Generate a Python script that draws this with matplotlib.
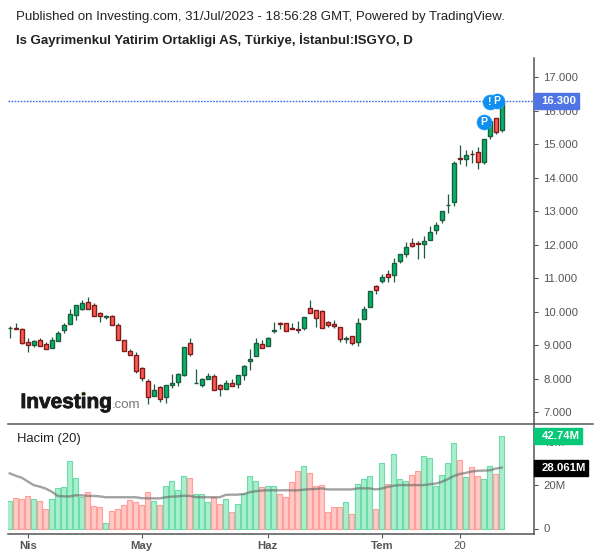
import matplotlib
matplotlib.use("Agg")
import matplotlib.pyplot as plt
import matplotlib.patheffects as pe
from matplotlib.lines import Line2D

plt.rcParams['font.family'] = ['Liberation Sans', 'DejaVu Sans']

# candle data
opens = [9.52, 9.51, 9.48, 9.09, 9.02, 9.15, 9.03, 8.93, 9.14, 9.47, 9.65, 9.92, 10.10, 10.29, 10.20, 9.96, 9.84,
         9.87, 9.60, 9.15, 8.82, 8.71, 8.32, 7.93, 7.48, 7.75, 7.45, 7.81, 7.90, 8.12, 9.06, 7.87, 7.83, 8.01, 8.08,
         7.81, 7.69, 7.87, 7.84, 8.11, 8.53, 8.68, 9.03, 8.97, 9.42, 9.67, 9.66, 9.51, 9.48, 9.53, 10.11, 10.05,
         10.02, 9.69, 9.63, 9.54, 9.18, 9.27, 9.09, 9.78, 10.14, 10.77, 10.91, 11.14, 11.09, 11.51, 11.72, 12.07,
         12.07, 12.02, 12.14, 12.46, 12.74, 13.18, 13.27, 14.59, 14.56, 14.71, 14.77, 14.47, 15.24, 15.78, 15.42]
closes = [9.53, 9.48, 9.08, 9.02, 9.12, 8.99, 8.90, 9.15, 9.36, 9.60, 9.93, 10.20, 10.26, 10.10, 9.87, 9.89, 9.87,
          9.60, 9.15, 8.82, 8.71, 8.23, 8.02, 7.45, 7.66, 7.39, 7.81, 7.87, 8.14, 8.95, 8.73, 7.88, 7.99, 8.08, 7.66,
          7.69, 7.87, 7.78, 8.11, 8.38, 8.59, 9.06, 8.91, 9.21, 9.45, 9.65, 9.42, 9.48, 9.45, 9.84, 9.96, 9.81,
          9.51, 9.60, 9.57, 9.18, 9.21, 9.06, 9.66, 10.08, 10.62, 10.65, 11.05, 11.05, 11.45, 11.72, 11.93, 11.98,
          12.02, 12.13, 12.40, 12.59, 13.00, 13.19, 14.44, 14.56, 14.68, 14.70, 14.47, 15.15, 15.70, 15.36, 16.30]
highs = [9.58, 9.68, 9.51, 9.22, 9.16, 9.22, 9.10, 9.24, 9.43, 9.66, 10.09, 10.20, 10.36, 10.45, 10.26, 10.00, 9.92,
         9.90, 9.67, 9.15, 8.88, 8.80, 8.35, 8.00, 7.84, 7.78, 7.81, 8.15, 8.17, 8.95, 9.22, 8.30, 8.02, 8.17, 8.15,
         7.84, 7.96, 7.99, 8.11, 8.41, 8.90, 9.21, 9.15, 9.24, 9.70, 9.70, 9.66, 9.67, 9.73, 9.84, 10.36, 10.05,
         10.05, 9.72, 9.75, 9.54, 9.27, 9.27, 9.81, 10.17, 10.62, 10.80, 11.12, 11.24, 11.61, 11.72, 12.08, 12.20,
         12.11, 12.27, 12.57, 12.68, 13.00, 13.52, 14.50, 14.97, 14.84, 14.84, 14.91, 15.15, 15.75, 15.78, 16.35]
lows = [9.23, 9.48, 9.05, 8.81, 8.96, 8.99, 8.90, 8.93, 9.14, 9.38, 9.65, 9.76, 10.06, 10.10, 9.87, 9.71, 9.80,
        9.60, 9.15, 8.82, 8.71, 8.19, 7.95, 7.25, 7.48, 7.32, 7.29, 7.72, 7.79, 8.09, 8.69, 7.87, 7.77, 8.01, 7.66,
        7.50, 7.69, 7.78, 7.74, 7.97, 8.27, 8.68, 8.91, 8.97, 9.38, 9.49, 9.42, 9.48, 9.38, 9.47, 9.96, 9.56,
        9.51, 9.56, 9.53, 9.11, 9.08, 9.00, 8.97, 9.78, 10.14, 10.53, 10.86, 10.90, 10.89, 11.47, 11.65, 11.95,
        11.59, 11.62, 12.14, 12.34, 12.64, 12.96, 13.17, 14.43, 14.37, 14.46, 14.28, 14.43, 15.17, 15.30, 15.36]

# volume in millions and its 20 day average
volumes = [12.9, 13.9, 13.4, 14.8, 13.4, 12.5, 8.8, 13.4, 18.5, 19.0, 31.0, 23.1, 14.4, 16.7, 10.2, 9.8, 2.4,
           7.9, 8.8, 10.7, 13.0, 12.1, 10.7, 16.7, 12.9, 10.7, 19.4, 21.7, 17.6, 24.0, 23.5, 16.1, 15.7, 12.0, 14.3,
           11.1, 13.4, 7.4, 11.1, 16.1, 24.0, 22.1, 18.9, 19.4, 19.4, 15.7, 14.3, 21.2, 26.3, 28.6, 25.8, 19.4,
           19.9, 7.4, 9.7, 9.7, 12.0, 6.9, 20.7, 23.0, 24.4, 9.2, 30.4, 20.7, 34.2, 22.6, 21.7, 24.5, 26.3, 33.2,
           32.3, 19.4, 24.5, 30.4, 39.2, 31.4, 23.6, 28.2, 24.0, 22.7, 29.0, 25.0, 42.74]
vol_ma = [25.4, 24.3, 23.4, 21.7, 20.0, 19.3, 18.4, 17.0, 15.0, 14.8, 14.8, 15.3, 15.3, 15.0, 15.0, 14.8, 14.4,
          14.4, 14.4, 14.4, 14.4, 14.4, 14.0, 13.9, 13.9, 13.9, 14.4, 14.7, 14.8, 15.1, 15.0, 14.5, 14.4, 14.4, 14.4,
          14.4, 15.5, 15.6, 15.6, 15.9, 16.7, 17.2, 17.5, 17.6, 17.6, 17.6, 17.6, 17.6, 17.6, 17.9, 18.1, 18.2,
          18.5, 18.0, 18.0, 18.0, 18.0, 18.0, 18.5, 18.5, 18.5, 18.0, 18.4, 19.2, 19.7, 20.0, 20.0, 20.0, 20.0, 20.0,
          20.4, 20.7, 21.5, 22.7, 24.2, 25.1, 25.6, 26.3, 26.6, 26.7, 26.8, 27.6, 28.06]

price_ticks = [7, 8, 9, 10, 11, 12, 13, 14, 15, 16, 17]
vol_ticks = [0, 20, 40]
vol_tick_labels = ['0', '20M', '40M']
date_pos = [3, 22, 43, 62, 75]
date_labels = ['Nis', 'May', 'Haz', 'Tem', '20']
# the P / ! flags above the last bars
flag_x = [79, 80, 81.2]
flag_y = [15.67, 16.27, 16.30]
flag_txt = ['P', '!', 'P']

W, H = 600, 558
GREY = '#555555'
xs = list(range(len(opens)))


def pane(top, bottom):
    # axes from pixel rows, left and right edge are the same for both panes
    return fig.add_axes([8 / W, 1 - bottom / H, (534 - 8) / W, (bottom - top) / H])


def side_label(txt, y, color, x1):
    # coloured value box on the price scale
    fig.patches.append(plt.Rectangle((534 / W, 1 - (y + 8) / H), (x1 - 534) / W, 16 / H, color=color,
                                     transform=fig.transFigure, zorder=5))
    fig.text(541.5 / W, 1 - y / H, txt, color='white', fontsize=8.2, fontweight='bold', va='center', zorder=6)


fig = plt.figure(figsize=(W / 100, H / 100), dpi=100)

fig.text(16.5 / W, 1 - 17 / H, 'Published on Investing.com, 31/Jul/2023 - 18:56:28 GMT, Powered by TradingView.',
         fontsize=9.5, color='#222222', va='center')
fig.text(16 / W, 1 - 40 / H, 'Is Gayrimenkul Yatirim Ortakligi AS, Türkiye, İstanbul:ISGYO, D',
         fontsize=9.5, fontweight='bold', color='#222222', va='center')

# price pane
ax = pane(58, 423.5)
ax.set_xlim((8 - 9.7) / 6, (534 - 9.7) / 6)
ax.set_ylim(6.67, 17.58)

for x, o, h, l, c in zip(xs, opens, highs, lows, closes):
    up = c >= o
    # wicks are dark green on every candle
    ax.vlines(x, l, h, color='#1c5c40', lw=0.9, zorder=2)
    ax.bar(x, abs(c - o), bottom=min(o, c), width=0.62, color='#04b766' if up else '#ff5a50',
           edgecolor='#1c5c40' if up else '#7d1c1c', linewidth=1.0, zorder=3)

ax.axhline(closes[-1], color='#3b6cf0', lw=1.0, ls=(0, (1.2, 1.0)), zorder=1)
ax.scatter(flag_x, flag_y, s=118, color='#0d8ff2', edgecolor='#3aa6f5', linewidth=0.4, zorder=4, clip_on=False)
for x, y, t in zip(flag_x, flag_y, flag_txt):
    ax.text(x, y, t, color='white', fontsize=7.5, fontweight='bold', ha='center', va='center', zorder=5)

ax.set_yticks(price_ticks)
ax.set_yticklabels(['%d.000' % p for p in price_ticks])
ax.set_xticks([])
for s in ['top', 'left', 'bottom']:
    ax.spines[s].set_visible(False)
ax.spines['right'].set_color(GREY)
ax.spines['right'].set_linewidth(1.1)
ax.yaxis.tick_right()
ax.tick_params(axis='y', length=3, width=0.8, color=GREY, labelcolor=GREY, labelsize=8.2, pad=3.5)

# logo
logo = fig.text(20.5 / W, 1 - 408 / H, 'Investing', fontsize=15, fontweight='bold', color='#1a1a1a', va='baseline')
logo.set_path_effects([pe.withStroke(linewidth=0.6, foreground='#1a1a1a')])
fig.text(112 / W, 1 - 408 / H, '.com', fontsize=9.5, color='#777777', va='baseline')
fig.add_artist(Line2D([82.7 / W], [1 - 392.5 / H], marker='o', ms=2.6, color='#f5a623', mew=0))

# volume pane
ax2 = pane(423.5, 534)
ax2.set_xlim(ax.get_xlim())
ax2.set_ylim((528.5 - 534) / 2.17, (528.5 - 423.5) / 2.17)

for x, o, c, v in zip(xs, opens, closes, volumes):
    up = c >= o
    ax2.bar(x, v, width=0.9, color='#a9efcd' if up else '#ffc9c6',
            edgecolor='#6cdcab' if up else '#ff9f99', linewidth=0.8, zorder=2)
ax2.plot(xs, vol_ma, color='#666666', alpha=0.6, lw=1.7, zorder=3)

ax2.set_yticks(vol_ticks)
ax2.set_yticklabels(vol_tick_labels)
ax2.set_xticks(date_pos)
ax2.set_xticklabels(date_labels)
for lab in ax2.get_xticklabels()[:4]:
    lab.set_fontweight('bold')
for s in ['top', 'left']:
    ax2.spines[s].set_visible(False)
for s in ['right', 'bottom']:
    ax2.spines[s].set_color(GREY)
    ax2.spines[s].set_linewidth(1.1)
ax2.yaxis.tick_right()
ax2.tick_params(axis='y', length=3, width=0.8, color=GREY, labelcolor=GREY, labelsize=8.2, pad=3.5)
ax2.tick_params(axis='x', length=3, width=0.8, color=GREY, labelcolor=GREY, labelsize=8.2, pad=2)
ax2.text(17 / W, 1 - 439 / H, 'Hacim (20)', transform=fig.transFigure, fontsize=9.4, color='#222222', va='center')

# line between the panes runs past the scale
fig.add_artist(Line2D([8 / W, 593 / W], [1 - 423.5 / H] * 2, color=GREY, lw=1.1))

side_label('16.300', 101, '#4f74e3', 579)
side_label('42.74M', 436, '#05c878', 582)
side_label('28.061M', 468, '#000000', 588)

fig.savefig('out.png', dpi=100)
